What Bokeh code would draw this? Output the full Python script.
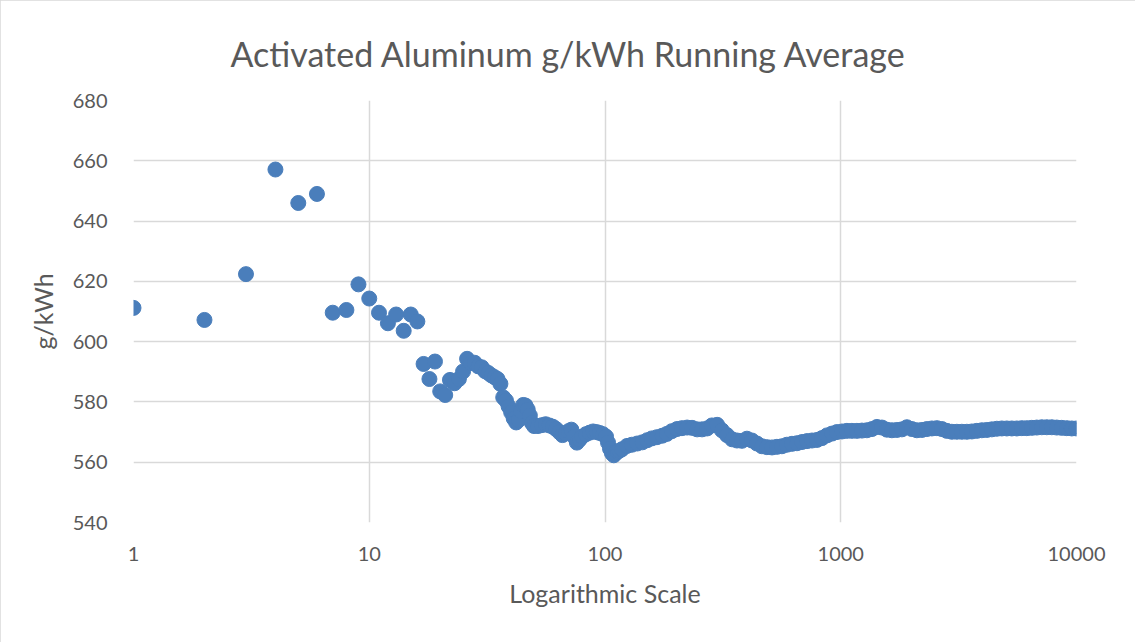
from bokeh.plotting import figure
from bokeh.models import FixedTicker, Range1d
from bokeh.embed import file_html
from bokeh.resources import INLINE

title_text = "Activated Aluminum g/kWh Running Average"
x_label = "Logarithmic Scale"
y_label = "g/kWh"

x_ticks = [1, 10, 100, 1000, 10000]
x_tick_labels = ["1", "10", "100", "1000", "10000"]
y_ticks = [540, 560, 580, 600, 620, 640, 660, 680]

# Early running-average points (one per sample count)
n_early = list(range(1, 51))
g_early = [611.2, 607.2, 622.4, 657.1, 646.0, 649.0, 609.6, 610.5, 619.0, 614.3,
           609.6, 606.1, 609.0, 603.6, 609.0, 606.7, 592.6, 587.6, 593.4, 583.5,
           582.3, 587.3, 586.2, 587.6, 590.1, 594.3, 592.9, 593.0, 591.8, 591.5,
           590.2, 589.6, 588.8, 588.2, 587.6, 586.0, 581.5, 580.5, 578.5, 576.5,
           574.5, 573.2, 574.0, 577.0, 579.0, 578.8, 577.5, 575.5, 573.0, 572.0]

# Mid range
n_mid = [52, 54, 56, 58, 60, 62, 64, 66, 68, 70, 72, 74, 76, 78, 80, 83, 86, 89,
         92, 95, 98, 101, 103, 105, 107, 109, 111, 113, 115]
g_mid = [572.0, 572.3, 572.6, 572.2, 571.8, 571.0, 570.0, 569.0, 569.5, 570.3,
         570.8, 568.5, 566.5, 567.5, 568.5, 569.3, 569.8, 570.2, 570.0, 569.7,
         569.3, 568.5, 566.5, 564.5, 563.0, 562.3, 563.0, 563.5, 563.8]

# Long tail
n_late = [118, 124, 130, 137, 144, 151, 158, 166, 175, 183, 192, 202, 212, 223,
          234, 246, 258, 271, 284, 299, 313, 329, 346, 363, 381, 400, 420, 441,
          463, 486, 511, 536, 563, 591, 621, 652, 685, 719, 755, 793, 832, 874,
          918, 963, 1012, 1062, 1115, 1171, 1230, 1291, 1356, 1424, 1495, 1570,
          1648, 1730, 1817, 1908, 2003, 2103, 2209, 2319, 2435, 2557, 2685, 2819,
          2960, 3108, 3263, 3427, 3598, 3778, 3967, 4165, 4373, 4592, 4822, 5063,
          5316, 5582, 5861, 6154, 6462, 6785, 7124, 7480, 7854, 8247, 8659, 9092,
          9547, 10000]
g_late = [564.3, 565.4, 565.8, 566.2, 566.6, 567.3, 567.9, 568.3, 568.8, 569.4,
          570.3, 571.0, 571.3, 571.5, 571.4, 570.9, 570.9, 571.2, 572.2, 572.4,
          570.6, 569.0, 567.6, 567.2, 567.1, 567.8, 567.2, 566.2, 565.3, 565.0,
          564.9, 565.1, 565.3, 565.8, 566.1, 566.3, 566.7, 567.0, 567.2, 567.4,
          568.0, 568.9, 569.5, 570.0, 570.2, 570.4, 570.4, 570.4, 570.5, 570.6,
          571.0, 571.7, 571.5, 570.8, 570.6, 570.7, 570.9, 571.6, 571.0, 570.6,
          570.7, 571.0, 571.2, 571.3, 571.0, 570.4, 570.1, 570.1, 570.1, 570.1,
          570.2, 570.4, 570.6, 570.7, 570.9, 571.1, 571.2, 571.2, 571.2, 571.2,
          571.3, 571.3, 571.4, 571.5, 571.6, 571.6, 571.6, 571.5, 571.4, 571.3,
          571.2, 571.2]

xs = n_early + n_mid + n_late
ys = g_early + g_mid + g_late

FONT = "Lato"
TEXT = "#595959"
GRID = "#d9d9d9"
BLUE = "#4a7ebb"

p = figure(width=1135, height=642, x_axis_type="log",
           x_range=Range1d(1, 10000), y_range=Range1d(540, 680),
           output_backend="svg", toolbar_location=None,
           min_border_left=133, min_border_right=59,
           min_border_top=100, min_border_bottom=120)

p.title.text = title_text
p.title.align = "left"
p.title.offset = 97
p.title.standoff = 53
p.title.text_font = FONT
p.title.text_font_size = "34px"
p.title.text_font_style = "normal"
p.title.text_color = TEXT

p.scatter(xs, ys, size=15, fill_color=BLUE, line_color=BLUE, line_width=1)

p.xaxis.ticker = FixedTicker(ticks=x_ticks)
p.xaxis.major_label_overrides = {t: s for t, s in zip(x_ticks, x_tick_labels)}
p.yaxis.ticker = FixedTicker(ticks=y_ticks)
p.xgrid.ticker = FixedTicker(ticks=x_ticks)
p.ygrid.ticker = FixedTicker(ticks=y_ticks)

for ax in (p.xaxis[0], p.yaxis[0]):
    ax.axis_line_color = None
    ax.major_tick_line_color = None
    ax.minor_tick_line_color = None
    ax.major_label_text_font = FONT
    ax.major_label_text_font_size = "20px"
    ax.major_label_text_color = TEXT
    ax.axis_label_text_font = FONT
    ax.axis_label_text_font_size = "25px"
    ax.axis_label_text_font_style = "normal"
    ax.axis_label_text_color = TEXT

p.xaxis.axis_label = x_label
p.yaxis.axis_label = y_label
p.xaxis.major_label_standoff = 18
p.xaxis.axis_label_standoff = 14
p.yaxis.major_label_standoff = 20
p.yaxis.axis_label_standoff = 12

for g in (p.xgrid[0], p.ygrid[0]):
    g.grid_line_color = GRID
    g.grid_line_width = 1.5
    g.minor_grid_line_color = None

p.outline_line_color = None
p.background_fill_color = "white"
p.border_fill_color = "white"
p.styles = {"outline": "1px solid #d9d9d9", "outline-offset": "-1px"}

open("out.html", "w").write(file_html(p, INLINE))
